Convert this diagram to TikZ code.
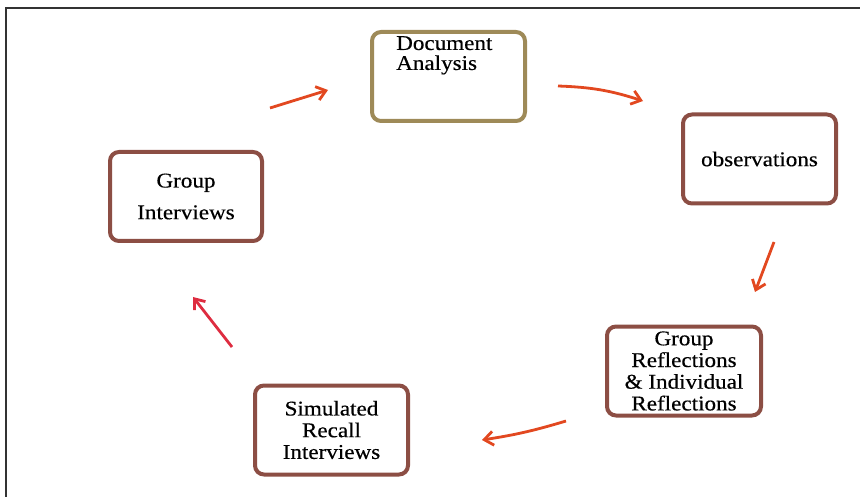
\documentclass[tikz,border=0pt]{standalone}
\usepackage{fontspec}
\setmainfont{Liberation Serif}[FakeStretch=1.1,FakeBold=0.4]
\usetikzlibrary{
  calc,positioning,
  arrows,arrows.meta
}
\definecolor{boxbrown}{RGB}{140,78,68}
\definecolor{boxolive}{RGB}{158,138,88}
\definecolor{arrred}{RGB}{226,72,32}
\definecolor{arrpink}{RGB}{222,44,64}
\tikzset{
  stagebox/.style={draw=boxbrown,line width=4pt,rounded corners=9pt,fill=white,
    minimum width=153pt,minimum height=89pt,inner sep=0pt,align=center,
    font=\fontsize{21}{21.7}\selectfont},
  cyclearrow/.style={draw=arrred,line width=2.8pt,
    -{Straight Barb[length=9pt,width=14pt,line width=2.8pt]}}
}
\begin{document}
\begin{tikzpicture}[x=1pt,y=-1pt]
\useasboundingbox (0,0) rectangle (860,497);
\draw[line width=2pt,black!80] (6,497) -- (6,8.5) -- (860,8.5);

\node[stagebox,draw=boxolive] (doc) at (448.5,76.5) {};
\node[anchor=north west,align=left,inner sep=0pt,
  font=\fontsize{21}{20}\selectfont] (doctext) at (396,36) {Document\\Analysis};
\node[stagebox] (obs) at (759.5,159) {observations};
\node[stagebox,minimum width=154pt] (refl) at (684,371)
  {Group\\Reflections\\\&\ Individual\\Reflections};
\node[stagebox] (recall) at (331.5,430) {Simulated\\Recall\\Interviews};
\node[stagebox,minimum width=152pt] (grpint) at (186,196.5) {Group\\[10pt]Interviews};

\coordinate (a1s) at (270,108);
\coordinate (a1e) at (328,90);
\coordinate (a2s) at (558,86);
\coordinate (a2e) at (643,101);
\coordinate (a3s) at (774,242);
\coordinate (a3e) at (755,292);
\coordinate (a4s) at (566,421);
\coordinate (a4e) at (482,440);
\coordinate (a5s) at (232,347);
\coordinate (a5e) at (193,297);

\draw[cyclearrow] (a1s) -- (a1e);
\draw[cyclearrow] (a2s) to[bend left=8] (a2e);
\draw[cyclearrow] (a3s) -- (a3e);
\draw[cyclearrow] (a4s) to[bend left=4] (a4e);
\draw[cyclearrow,draw=arrpink] (a5s) -- (a5e);
\end{tikzpicture}
\end{document}
